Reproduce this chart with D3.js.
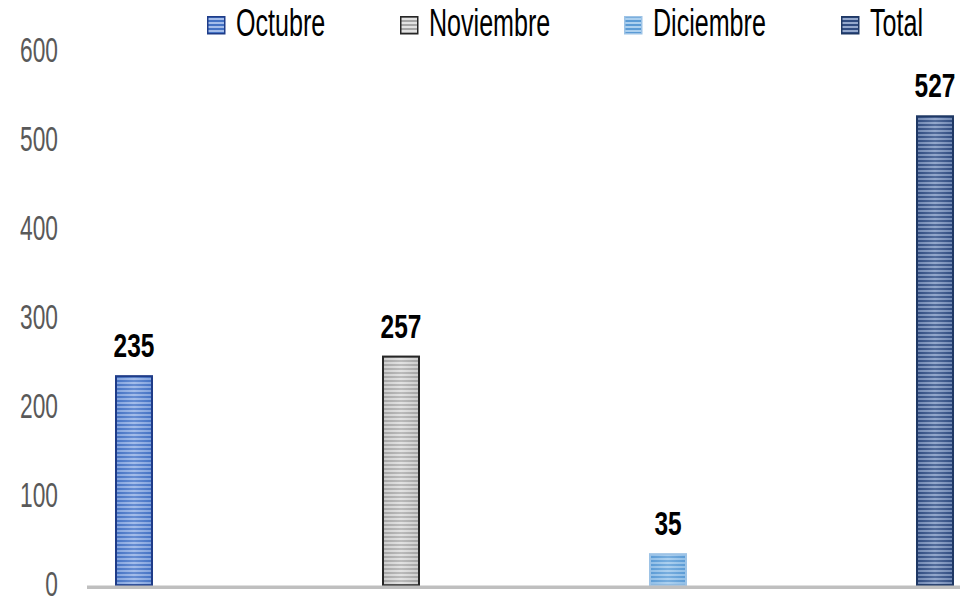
<!DOCTYPE html>
<html>
<head>
<meta charset="utf-8">
<script src="https://cdn.jsdelivr.net/npm/d3@7"></script>
<style>
  body { margin: 0; background: #fff; }
  text { font-family: "Liberation Sans", Arial, sans-serif; }
</style>
</head>
<body>
<div id="chart"></div>
<script>
const WIDTH = 960;
const HEIGHT = 596;

const categories = ['Octubre', 'Noviembre', 'Diciembre', 'Total'];
const values = [235, 257, 35, 527];
const yTicks = [0, 100, 200, 300, 400, 500, 600];

// look of each series
const colors = {
    Octubre: { base: '#4472c4', light: '#a4bdea', stroke: '#1f3c88' },
    Noviembre: { base: '#a5a5a5', light: '#e2e2e2', stroke: '#262626' },
    Diciembre: { base: '#5b9bd5', light: '#acd0ef', stroke: '#9dc3e6' },
    Total: { base: '#2f4b80', light: '#94a8cc', stroke: '#1f3864' }
};

// condensed look (the original font is very narrow)
const NARROW = 0.66;

const svg = d3.select('#chart')
    .append('svg')
    .attr('width', WIDTH)
    .attr('height', HEIGHT);

const defs = svg.append('defs');

categories.forEach((c, i) => {
    const col = colors[c];
    const grad = defs.append('linearGradient')
        .attr('id', 'grad' + i)
        .attr('x1', 0).attr('x2', 1).attr('y1', 0).attr('y2', 0);
    grad.append('stop').attr('offset', '0%').attr('stop-color', col.base);
    grad.append('stop').attr('offset', '50%').attr('stop-color', col.light);
    grad.append('stop').attr('offset', '100%').attr('stop-color', col.base);

    const pat = defs.append('pattern')
        .attr('id', 'pat' + i)
        .attr('patternUnits', 'userSpaceOnUse')
        .attr('width', 4)
        .attr('height', 4);
    pat.append('rect').attr('width', 4).attr('height', 4).attr('fill', col.light);
    pat.append('rect').attr('y', 0).attr('width', 4).attr('height', 2).attr('fill', col.base);
});

const x = d3.scalePoint()
    .domain(categories)
    .range([134, 935]);

const y = d3.scaleLinear()
    .domain([0, 600])
    .range([585.3, 51.3]);

const BAR_W = 36;

// y labels
svg.selectAll('.ytick')
    .data(yTicks)
    .enter()
    .append('text')
    .attr('class', 'ytick')
    .text(d => d)
    .attr('transform', d => 'translate(58,' + (y(d) + 10.5) + ') scale(0.65,1)')
    .attr('text-anchor', 'end')
    .attr('font-size', 35)
    .attr('fill', '#595959');

// bars
const bars = svg.selectAll('.bar')
    .data(values)
    .enter()
    .append('g')
    .attr('class', 'bar');

bars.append('rect')
    .attr('x', (d, i) => x(categories[i]) - BAR_W / 2)
    .attr('y', d => y(d))
    .attr('width', BAR_W)
    .attr('height', d => y(0) - y(d))
    .attr('fill', (d, i) => 'url(#pat' + i + ')');

bars.append('rect')
    .attr('x', (d, i) => x(categories[i]) - BAR_W / 2)
    .attr('y', d => y(d))
    .attr('width', BAR_W)
    .attr('height', d => y(0) - y(d))
    .attr('fill', (d, i) => 'url(#grad' + i + ')')
    .attr('fill-opacity', 0.35)
    .attr('stroke', (d, i) => colors[categories[i]].stroke)
    .attr('stroke-width', 2);

// axis line
svg.append('line')
    .attr('x1', 87)
    .attr('x2', 960)
    .attr('y1', y(0) + 2)
    .attr('y2', y(0) + 2)
    .attr('stroke', '#bfbfbf')
    .attr('stroke-width', 3.5);

// value labels
svg.selectAll('.val')
    .data(values)
    .enter()
    .append('text')
    .attr('class', 'val')
    .text(d => d)
    .attr('transform', (d, i) => 'translate(' + x(categories[i]) + ',' + (y(d) - 19) + ') scale(0.73,1)')
    .attr('text-anchor', 'middle')
    .attr('font-size', 33.5)
    .attr('font-weight', 'bold')
    .attr('fill', '#000');

// legend
const legendX = [207, 400, 624, 841];
const leg = svg.selectAll('.leg')
    .data(categories)
    .enter()
    .append('g')
    .attr('class', 'leg')
    .attr('transform', (d, i) => 'translate(' + legendX[i] + ',16)');

leg.append('rect')
    .attr('x', 0.75)
    .attr('y', 0.75)
    .attr('width', 17)
    .attr('height', 17)
    .attr('fill', (d, i) => 'url(#pat' + i + ')')
    .attr('stroke', d => colors[d].stroke)
    .attr('stroke-width', 1.5);

leg.append('text')
    .text(d => d)
    .attr('transform', 'translate(29,20) scale(' + NARROW + ',1)')
    .attr('font-size', 38)
    .attr('fill', '#000');
</script>
</body>
</html>
